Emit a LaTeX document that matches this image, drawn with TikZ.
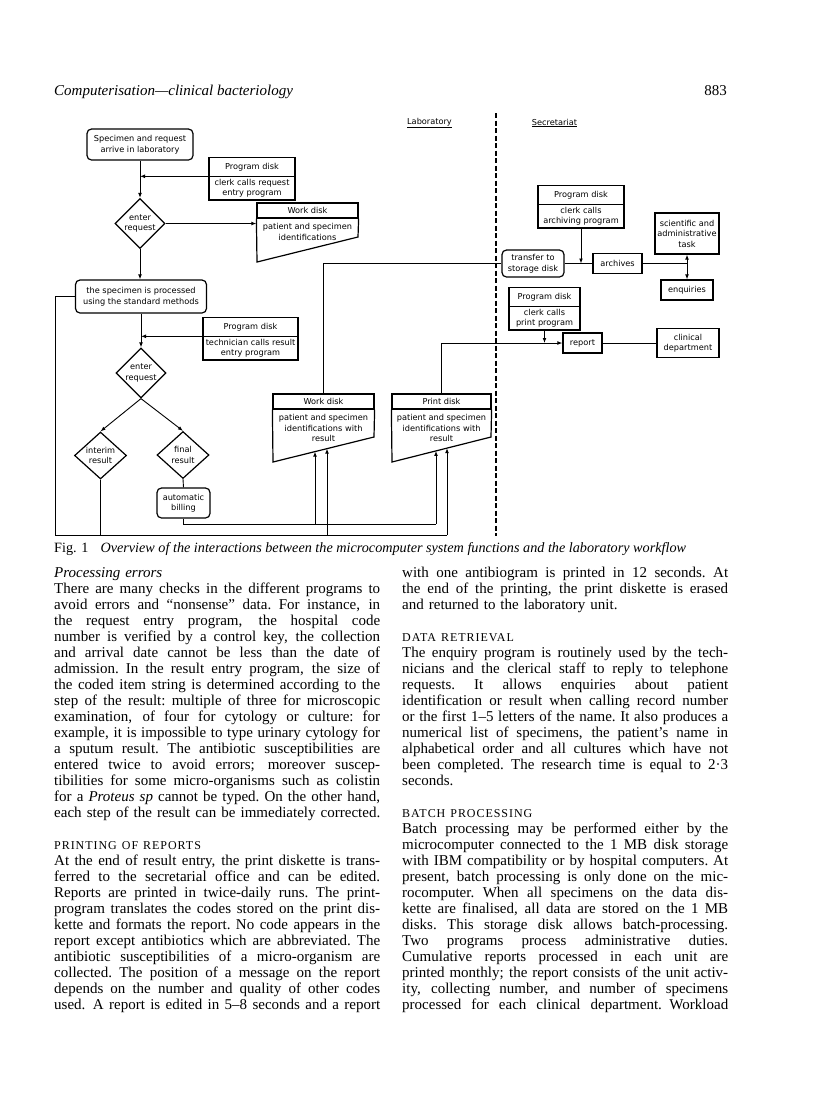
\documentclass[tikz,border=0pt]{standalone}
\usepackage{fontspec}
\setmainfont{Liberation Serif}
\newfontfamily\dfont{DejaVu Sans}
\usetikzlibrary{shapes.geometric,shapes.multipart,arrows.meta,positioning}

\newlength\colw
\setlength\colw{326pt}
\newcommand\jl[1]{\makebox[\colw][s]{\spaceskip=.25em plus 1em minus .05em\relax\xspaceskip=\spaceskip\relax #1}\\}
\newcommand\hd[1]{{\fontsize{12}{16}\selectfont\addfontfeatures{LetterSpace=8}#1}\\}
\newcommand\dsize{\dfont\fontsize{8.2}{10.5}\selectfont}
\newcommand\hstrut{\rule[-4.5pt]{0pt}{13.5pt}}

\tikzset{
  box/.style={draw, line width=1.2pt, font=\dsize, align=center, inner sep=1pt},
  rbox/.style={box, rounded corners=4.5pt},
  dia/.style={draw, line width=1.2pt, diamond, aspect=1, inner sep=0pt, font=\dsize, align=center},
  pdisk/.style={draw, line width=1.2pt, rectangle split, rectangle split parts=2, font=\dsize, align=center, inner xsep=2pt, inner ysep=2pt},
  hdr/.style={draw, line width=1.2pt, font=\dsize, minimum height=15pt, inner sep=0pt},
  body/.style={font=\dsize, align=center, inner sep=0pt},
  outline/.style={line width=1.2pt, line join=miter},
  wire/.style={line width=0.9pt},
  arr/.style={wire, -{Latex[length=5pt,width=3.8pt]}},
  col/.style={anchor=base west, text width=\colw, align=left, inner sep=0pt, font={\fontsize{15}{16}\selectfont}},
}

\begin{document}
\begin{tikzpicture}[x=1pt,y=-1pt]
\useasboundingbox (0,0) rectangle (816,1096);

% running head
\node[anchor=base west, inner sep=0pt, font={\fontsize{15}{16}\selectfont\itshape}] (runhead) at (54,95) {Computerisation—clinical bacteriology};
\node[anchor=base east, inner sep=0pt, font={\fontsize{15}{16}\selectfont}] (pageno) at (727,95) {883};

% laboratory / secretariat
\coordinate (divtop) at (496,113);
\coordinate (divbot) at (496,536);
\draw[line width=1.3pt, dash pattern=on 5pt off 2.5pt] (divtop) -- (divbot);
\node[font=\dsize] (lab) at (429.5,123) {\underline{Laboratory}};
\node[font=\dsize] (sec) at (554.5,123) {\underline{Secretariat}};

% laboratory side
\node[rbox, minimum width=106pt, minimum height=31pt] (spec) at (140,144.5) {Specimen and request\\arrive in laboratory};
\node[pdisk, text width=82pt, anchor=north] (prog1) at (252,157) {\hstrut Program disk\nodepart{two}clerk calls request\\entry program};
\node[dia, minimum size=50pt] (dia1) at (140,223.5) {enter\\request};
\node[hdr, minimum width=101pt] (wd1) at (307.5,210.5) {Work disk};
\draw[outline] (wd1.south west) -- (257,262) -- (358,237) -- (wd1.south east);
\node[body] (wd1t) at (307.5,232) {patient and specimen\\identifications};

\node[rbox, minimum width=131pt, minimum height=33pt] (proc) at (141,296.5) {the specimen is processed\\using the standard methods};
\node[pdisk, text width=91pt, anchor=north] (prog2) at (250.5,317) {\hstrut Program disk\nodepart{two}technician calls result\\entry program};
\node[dia, minimum size=50pt] (dia2) at (141,373) {enter\\request};
\node[dia, minimum width=52pt, minimum height=47pt] (interim) at (100.5,455.5) {interim\\result};
\node[dia, minimum width=52pt, minimum height=47pt] (final) at (183,455) {final\\result};
\node[rbox, minimum width=53pt, minimum height=30pt] (bill) at (183.5,503) {automatic\\billing};

\node[hdr, minimum width=101pt] (wd2) at (323.5,401.5) {Work disk};
\draw[outline] (wd2.south west) -- (273,462) -- (374,437) -- (wd2.south east);
\node[body] (wd2t) at (323.5,428) {patient and specimen\\identifications with\\result};
\node[hdr, minimum width=99pt] (pd) at (441.5,401.5) {Print disk};
\draw[outline] (pd.south west) -- (392,462) -- (491,437) -- (pd.south east);
\node[body] (pdt) at (441.5,428) {patient and specimen\\identifications with\\result};

% secretariat side
\node[pdisk, text width=82pt, anchor=north] (prog3) at (581,185) {\hstrut Program disk\nodepart{two}clerk calls\\archiving program};
\node[rbox, minimum width=62pt, minimum height=27pt] (trans) at (533,263.5) {transfer to\\storage disk};
\node[box, minimum width=49pt, minimum height=20pt] (arch) at (617.5,263.5) {archives};
\node[box, minimum width=64pt, minimum height=41pt] (sci) at (687,233.5) {scientific and\\administrative\\task};
\node[box, minimum width=52pt, minimum height=20pt] (enq) at (687,290) {enquiries};
\node[pdisk, text width=67pt, anchor=north] (prog4) at (544.5,287) {\hstrut Program disk\nodepart{two}clerk calls\\print program};
\node[box, minimum width=39pt, minimum height=20pt] (report) at (582.5,343) {report};
\node[box, minimum width=62pt, minimum height=29pt] (clin) at (688,343) {clinical\\department};

% arrow tips on the slanted disk bottoms
\coordinate (wdin1) at (315,451.6);
\coordinate (wdin2) at (327,448.6);
\coordinate (pdin1) at (436,450.9);
\coordinate (pdin2) at (447,448.1);
\coordinate (low) at (55,535);
\coordinate (up) at (0,524);

% laboratory flow
\draw[arr] (spec.south) -- (dia1.north);
\draw[arr] (prog1.text split west) -- (prog1.text split west -| spec.south);
\draw[arr] (dia1.east) -- (dia1.east -| wd1.west);
\draw[arr] (dia1.south) -- (dia1.south |- proc.north);
\draw[arr] (proc.south) -- (dia2.north);
\draw[arr] (prog2.text split west) -- (prog2.text split west -| dia2.north);
\draw[arr] (dia2.south) -- (interim.north);
\draw[arr] (dia2.south) -- (final.north);
\draw[wire] (final.south) -- (bill.north);
\draw[wire] (proc.west) -| (low) -- (low -| pdin2);
\draw[wire] (interim.south) -- (interim.south |- low);
\draw[arr] (low -| pdin2) -- (pdin2);
\draw[arr] (low -| wdin2) -- (wdin2);
\draw[wire] (bill.south) -- (bill.south |- up) -- (up -| pdin1);
\draw[arr] (up -| pdin1) -- (pdin1);
\draw[arr] (up -| wdin1) -- (wdin1);
\draw[wire] (wd2.north) |- (trans.west);
\draw[arr] (pd.north) |- (report.west);

% secretariat flow
\draw[arr] (prog3.south) -- (prog3.south |- arch.west);
\draw[wire] (trans.east) -- (arch.west);
\draw[wire] (arch.east) -- (arch.east -| sci.south);
\draw[wire, {Latex[length=5pt,width=3.8pt]}-{Latex[length=5pt,width=3.8pt]}] (sci.south) -- (enq.north);
\draw[arr] (prog4.south) -- (prog4.south |- report.west);
\draw[wire] (report.east) -- (clin.west);

% caption
\node[anchor=base west, inner sep=0pt, font={\fontsize{14.2}{16}\selectfont}] (cap) at (54,552) {Fig. 1\hspace{12pt}\textit{Overview of the interactions between the microcomputer system functions and the laboratory workflow}};

% text columns
\node[col] (leftcol) at (54,577) {%
\textit{Processing errors}\\
\jl{There are many checks in the different programs to}
\jl{avoid errors and “nonsense” data. For instance, in}
\jl{the request entry program, the hospital code}
\jl{number is verified by a control key, the collection}
\jl{and arrival date cannot be less than the date of}
\jl{admission. In the result entry program, the size of}
\jl{the coded item string is determined according to the}
\jl{step of the result: multiple of three for microscopic}
\jl{examination, of four for cytology or culture: for}
\jl{example, it is impossible to type urinary cytology for}
\jl{a sputum result. The antibiotic susceptibilities are}
\jl{entered twice to avoid errors; moreover suscep-}
\jl{tibilities for some micro-organisms such as colistin}
\jl{for a \textit{Proteus sp} cannot be typed. On the other hand,}
\jl{each step of the result can be immediately corrected.}
\mbox{}\\
\hd{PRINTING OF REPORTS}
\jl{At the end of result entry, the print diskette is trans-}
\jl{ferred to the secretarial office and can be edited.}
\jl{Reports are printed in twice-daily runs. The print-}
\jl{program translates the codes stored on the print dis-}
\jl{kette and formats the report. No code appears in the}
\jl{report except antibiotics which are abbreviated. The}
\jl{antibiotic susceptibilities of a micro-organism are}
\jl{collected. The position of a message on the report}
\jl{depends on the number and quality of other codes}
\makebox[\colw][s]{\spaceskip=.25em plus 1em minus .05em\relax used. A report is edited in 5–8 seconds and a report}};

\node[col] (rightcol) at (402,577) {%
\jl{with one antibiogram is printed in 12 seconds. At}
\jl{the end of the printing, the print diskette is erased}
and returned to the laboratory unit.\\
\mbox{}\\
\hd{DATA RETRIEVAL}
\jl{The enquiry program is routinely used by the tech-}
\jl{nicians and the clerical staff to reply to telephone}
\jl{requests. It allows enquiries about patient}
\jl{identification or result when calling record number}
\jl{or the first 1–5 letters of the name. It also produces a}
\jl{numerical list of specimens, the patient’s name in}
\jl{alphabetical order and all cultures which have not}
\jl{been completed. The research time is equal to 2·3}
seconds.\\
\mbox{}\\
\hd{BATCH PROCESSING}
\jl{Batch processing may be performed either by the}
\jl{microcomputer connected to the 1 MB disk storage}
\jl{with IBM compatibility or by hospital computers. At}
\jl{present, batch processing is only done on the mic-}
\jl{rocomputer. When all specimens on the data dis-}
\jl{kette are finalised, all data are stored on the 1 MB}
\jl{disks. This storage disk allows batch-processing.}
\jl{Two programs process administrative duties.}
\jl{Cumulative reports processed in each unit are}
\jl{printed monthly; the report consists of the unit activ-}
\jl{ity, collecting number, and number of specimens}
\makebox[\colw][s]{\spaceskip=.25em plus 1em minus .05em\relax processed for each clinical department. Workload}};
\end{tikzpicture}
\end{document}
